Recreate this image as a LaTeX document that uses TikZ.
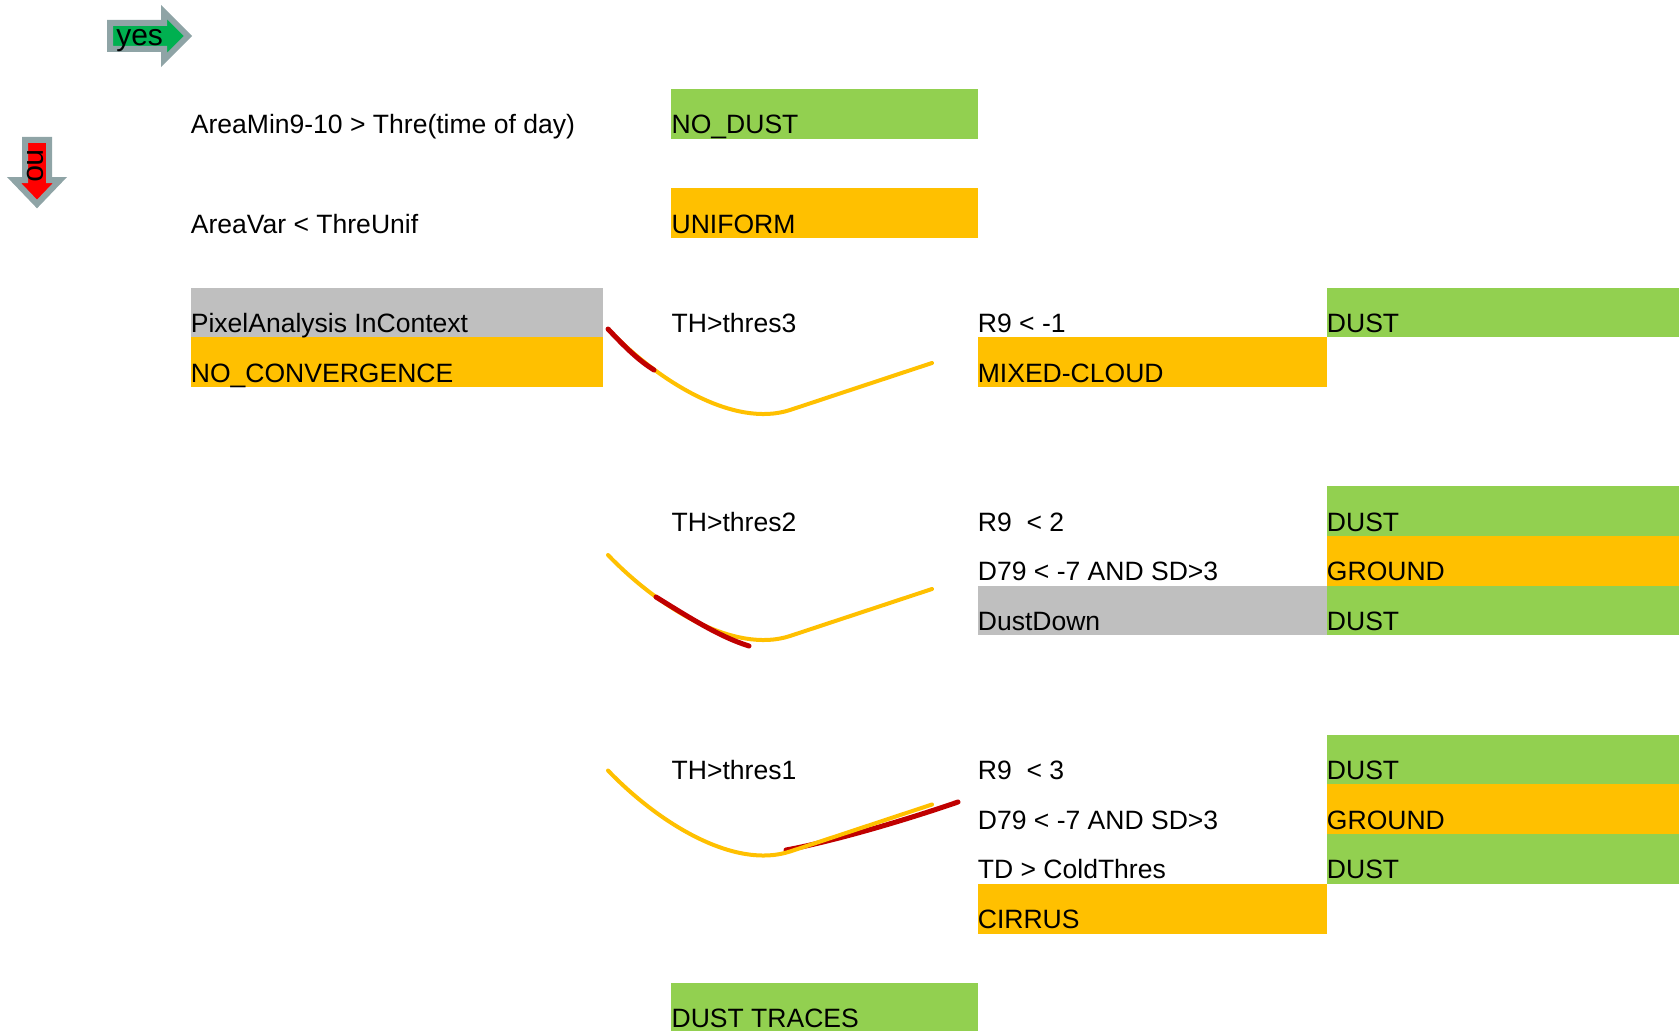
\documentclass[tikz,border=0pt]{standalone}
\usepackage{fontspec}
\setmainfont{Liberation Sans}
\definecolor{xlgreen}{HTML}{92D050}
\definecolor{xlorange}{HTML}{FFC000}
\definecolor{xlgray}{HTML}{BFBFBF}
\definecolor{xlred}{HTML}{C00000}
\definecolor{signgray}{RGB}{143,164,166}
\definecolor{signgreen}{HTML}{00B050}
\begin{document}
\begin{tikzpicture}[x=0.75pt,y=-0.75pt,
    cell/.style={anchor=base west,inner sep=0pt,font=\fontsize{19.9}{24}\selectfont},
    signtext/.style={anchor=base west,inner sep=0pt,font=\fontsize{22.5}{27}\selectfont},
    signarrow/.style={draw=signgray,line width=4.5pt,line join=miter},
    threscurve/.style={draw=xlorange,line width=3pt,line cap=round},
    redline/.style={draw=xlred,line width=3.75pt,line cap=round}]
  \useasboundingbox (0,0) rectangle (1679,1031);
  % yes / no signs
  \draw[signarrow,fill=signgreen] (110,23) -- (164,23) -- (164,12) -- (188,36)
    -- (164,60) -- (164,49) -- (110,49) -- cycle;
  \draw[signarrow,fill=red] (25,140) -- (49,140) -- (49,180) -- (60,180)
    -- (37,204) -- (14,180) -- (25,180) -- cycle;
  \node[signtext] (yes) at (116,45.5) {yes};
  \node[signtext,rotate=-90] (no) at (27,149) {no};
  % coloured cells
  \fill[xlgreen] (671.4,88.9) rectangle (977.6,138.6);
  \fill[xlorange] (671.4,188.3) rectangle (977.6,237.9);
  \fill[xlgray] (190.6,287.6) rectangle (602.9,337.3);
  \fill[xlorange] (190.6,337.3) rectangle (602.9,387.0);
  \fill[xlgreen] (1326.7,287.6) rectangle (1679,337.3);
  \fill[xlorange] (977.6,337.3) rectangle (1326.7,387.0);
  \fill[xlgreen] (1326.7,486.3) rectangle (1679,536.0);
  \fill[xlorange] (1326.7,536.0) rectangle (1679,585.7);
  \fill[xlgray] (977.6,585.7) rectangle (1326.7,635.4);
  \fill[xlgreen] (1326.7,585.7) rectangle (1679,635.4);
  \fill[xlgreen] (1326.7,734.7) rectangle (1679,784.4);
  \fill[xlorange] (1326.7,784.4) rectangle (1679,834.1);
  \fill[xlgreen] (1326.7,834.1) rectangle (1679,883.8);
  \fill[xlorange] (977.6,883.8) rectangle (1326.7,933.5);
  \fill[xlgreen] (671.4,983.1) rectangle (977.6,1031);
  % cell texts
  \path[every node/.style=cell]
    (190.6,133.6) node (areamin) {AreaMin9-10 > Thre(time of day)}
    (671.4,133.6) node (nodust) {NO\_DUST}
    (190.6,233.0) node (areavar) {AreaVar < ThreUnif}
    (671.4,233.0) node (uniform) {UNIFORM}
    (190.6,332.3) node (pixel) {PixelAnalysis InContext}
    (671.4,332.3) node (th3) {TH>thres3}
    (977.6,332.3) node (r9a) {R9 < -1}
    (1326.7,332.3) node (dust1) {DUST}
    (190.6,382.0) node (noconv) {NO\_CONVERGENCE}
    (977.6,382.0) node (mixed) {MIXED-CLOUD}
    (671.4,531.0) node (th2) {TH>thres2}
    (977.6,531.0) node (r9b) {R9\ \ < 2}
    (1326.7,531.0) node (dust2) {DUST}
    (977.6,580.7) node (d79b) {D79 < -7 AND SD>3}
    (1326.7,580.7) node (ground2) {GROUND}
    (977.6,630.4) node (dustdown) {DustDown}
    (1326.7,630.4) node (dust3) {DUST}
    (671.4,779.4) node (th1) {TH>thres1}
    (977.6,779.4) node (r9c) {R9\ \ < 3}
    (1326.7,779.4) node (dust4) {DUST}
    (977.6,829.1) node (d79c) {D79 < -7 AND SD>3}
    (1326.7,829.1) node (ground3) {GROUND}
    (977.6,878.8) node (td) {TD > ColdThres}
    (1326.7,878.8) node (dust5) {DUST}
    (977.6,928.5) node (cirrus) {CIRRUS}
    (671.4,1027.0) node (traces) {DUST TRACES};
  % threshold curves
  \begin{scope}
    \draw[redline] (786,850) .. controls (830,842) and (900,822) .. (958,802);
    \foreach \dy in {0,226,441.5}
      \draw[threscurve,yshift=-0.75*\dy pt] (608,329) .. controls (660,383) and (735,428)
        .. (790,410) -- (932,363);
    \draw[redline] (608,329) .. controls (625,347) and (638,360) .. (654,370);
    \draw[redline] (656,597) .. controls (690,618) and (720,637) .. (749,646);
  \end{scope}
\end{tikzpicture}
\end{document}
